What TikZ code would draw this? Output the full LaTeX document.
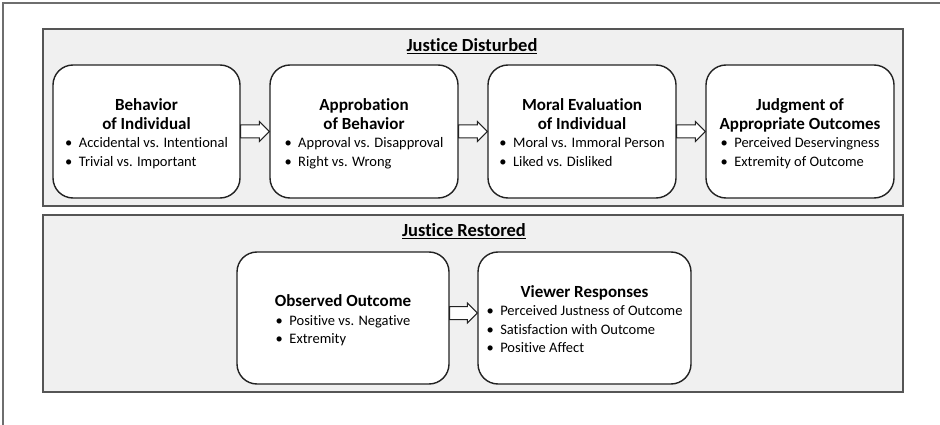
\documentclass[tikz,border=0pt]{standalone}
\usepackage{fontspec}
\setmainfont{Carlito}[Ligatures=NoCommon]
\usepackage{tikz}
\usetikzlibrary{calc}
\definecolor{grigio}{HTML}{F0F0F0}
\definecolor{bordo}{HTML}{555555}
\definecolor{scuro}{HTML}{222222}
\definecolor{cornice}{HTML}{6E6E6E}

\tikzset{
  panel/.style={draw=bordo, fill=grigio, line width=2pt},
  stage/.style={draw=scuro, fill=white, line width=1.4pt, rounded corners=20pt, inner sep=0pt},
  stagetext/.style={align=center, inner sep=0pt, font=\fontsize{14.5}{18.5}\selectfont},
  heading/.style={font=\fontsize{18.5}{22}\selectfont\bfseries},
  arrowline/.style={draw=scuro, fill=white, line width=1pt, line join=miter},
}
\newcommand{\stagetitle}[1]{{\fontsize{17}{19.5}\selectfont\bfseries #1}}
\newcommand{\bulletlist}[1]{\begin{tabular}[t]{@{}l@{}}#1\end{tabular}}
\newcommand{\itm}{\textbullet\hspace{0.45em}}
\newcommand{\blockarrow}[3][0pt]{%
  \draw[arrowline] let \p1=([yshift=#1]#2.east), \p2=(#3.west) in
    (\x1,\y1+6.5pt) -- (\x2-10pt,\y1+6.5pt) -- (\x2-10pt,\y1+10pt) -- (\x2,\y1)
    -- (\x2-10pt,\y1-10pt) -- (\x2-10pt,\y1-6.5pt) -- (\x1,\y1-6.5pt) -- cycle;
}

\begin{document}
\begin{tikzpicture}[x=1pt, y=-1pt]
  \useasboundingbox (0,0) rectangle (940,425);
  % Frame
  \draw[cornice, line width=1.5pt] (3,425) -- (3,3) -- (940,3);
  % Panels
  \draw[panel] (43,29) rectangle (903,206);
  \draw[panel] (43,215) rectangle (903,392);
  \node[heading] (disturbed) at (472,46) {\underline{Justice Disturbed}};
  \node[heading] (restored) at (464,231) {\underline{Justice Restored}};
  % Justice disturbed
  \node[stage, minimum width=187pt, minimum height=133pt] (behavior) at (146.5,131.5) {};
  \node[stagetext] (behavior-text) at ([yshift=-4pt]behavior.center)
    {\stagetitle{Behavior}\\ \stagetitle{of Individual}\\
     \bulletlist{\itm Accidental vs. Intentional\\ \itm Trivial vs. Important}};
  \node[stage, minimum width=188pt, minimum height=133pt] (approbation) at (364,131.5) {};
  \node[stagetext] (approbation-text) at ([yshift=-4pt]approbation.center)
    {\stagetitle{Approbation}\\ \stagetitle{of Behavior}\\
     \bulletlist{\itm Approval vs. Disapproval\\ \itm Right vs. Wrong}};
  \node[stage, minimum width=188pt, minimum height=133pt] (evaluation) at (582,131.5) {};
  \node[stagetext] (evaluation-text) at ([yshift=-4pt]evaluation.center)
    {\stagetitle{Moral Evaluation}\\ \stagetitle{of Individual}\\
     \bulletlist{\itm Moral vs. Immoral Person\\ \itm Liked vs. Disliked}};
  \node[stage, minimum width=188pt, minimum height=133pt] (judgment) at (800,131.5) {};
  \node[stagetext] (judgment-text) at ([yshift=-4pt]judgment.center)
    {\stagetitle{Judgment of}\\ \stagetitle{Appropriate Outcomes}\\
     \bulletlist{\itm Perceived Deservingness\\ \itm Extremity of Outcome}};
  \blockarrow{behavior}{approbation}
  \blockarrow{approbation}{evaluation}
  \blockarrow{evaluation}{judgment}
  % Justice restored
  \node[stage, minimum width=212pt, minimum height=132pt] (observed) at (343,318) {};
  \node[stagetext] (observed-text) at ([yshift=-4pt]observed.center)
    {\stagetitle{Observed Outcome}\\
     \bulletlist{\itm Positive vs. Negative\\ \itm Extremity}};
  \node[stage, minimum width=213pt, minimum height=132pt] (responses) at (584.5,318) {};
  \node[stagetext] (responses-text) at ([yshift=-4pt]responses.center)
    {\stagetitle{Viewer Responses}\\
     \bulletlist{\itm Perceived Justness of Outcome\\ \itm Satisfaction with Outcome\\ \itm Positive Affect}};
  \blockarrow[5pt]{observed}{responses}
\end{tikzpicture}
\end{document}
